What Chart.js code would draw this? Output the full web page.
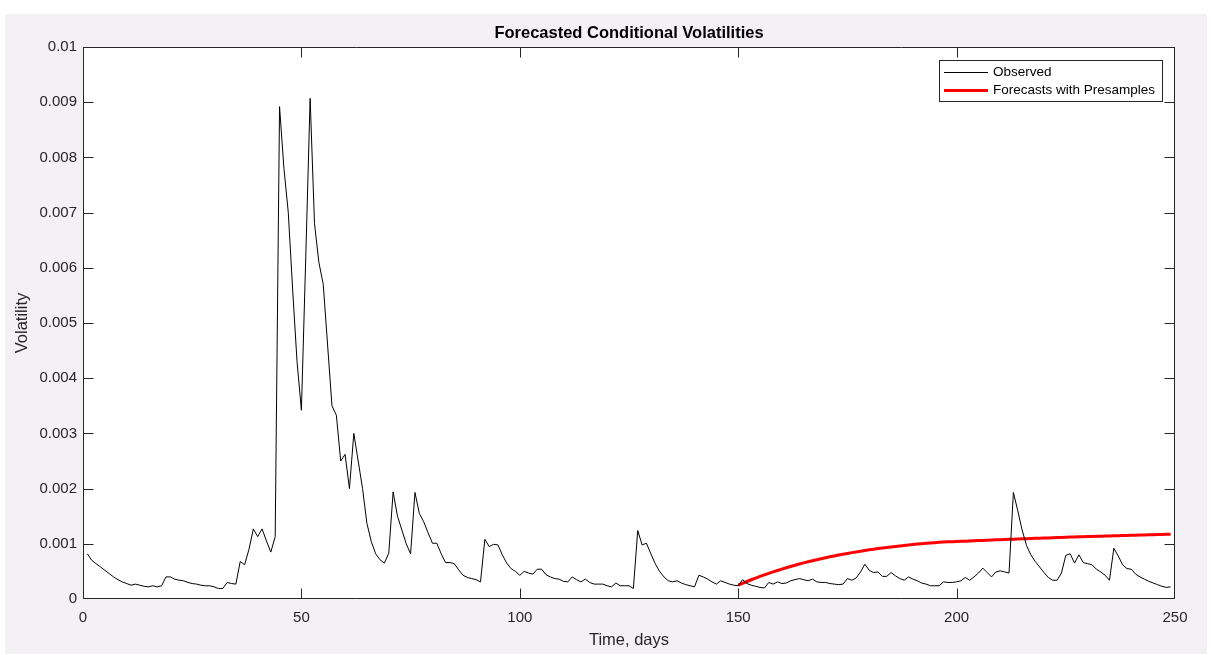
<!DOCTYPE html>
<html>
<head>
<meta charset="utf-8">
<style>
  html, body { margin: 0; padding: 0; background: #ffffff; }
  #wrap { width: 1211px; height: 655px; position: relative; }
</style>
<script src="https://cdn.jsdelivr.net/npm/chart.js@4.4.1/dist/chart.umd.min.js"></script>
</head>
<body>
<div id="wrap"><canvas id="c" width="1211" height="655"></canvas></div>
<script>
// ---------------- data ----------------
const chartTitle = 'Forecasted Conditional Volatilities';
const xAxisTitle = 'Time, days';
const yAxisTitle = 'Volatility';
const seriesNames = ['Observed', 'Forecasts with Presamples'];

const observedStartDay = 1;
const observedValues = [
  0.00082, 0.00070, 0.00064, 0.00058, 0.00052, 0.00046, 0.00040, 0.00035, 0.00031, 0.00028,
  0.00025, 0.00027, 0.00025, 0.00023, 0.00022, 0.00024, 0.00022, 0.00024, 0.00040, 0.00040,
  0.00036, 0.00034, 0.00033, 0.00030, 0.00028, 0.00027, 0.00025, 0.00024, 0.00024, 0.00022,
  0.00019, 0.00019, 0.00030, 0.00028, 0.00027, 0.00068, 0.00062, 0.00090, 0.00127, 0.00113,
  0.00127, 0.00105, 0.00085, 0.00113, 0.00892, 0.00780, 0.00700, 0.00560, 0.00430, 0.00342,
  0.00620, 0.00907, 0.00680, 0.00610, 0.00570, 0.00460, 0.00350, 0.00333, 0.00250, 0.00262,
  0.00200, 0.00300, 0.00250, 0.00200, 0.00137, 0.00104, 0.00082, 0.00071, 0.00065, 0.00083,
  0.00194, 0.00150, 0.00125, 0.00100, 0.00082, 0.00193, 0.00155, 0.00140, 0.00120, 0.00101,
  0.00101, 0.00082, 0.00066, 0.00066, 0.00064, 0.00053, 0.00043, 0.00039, 0.00037, 0.00035,
  0.00031, 0.00108, 0.00095, 0.00099, 0.00098, 0.00080, 0.00065, 0.00055, 0.00050, 0.00043,
  0.00050, 0.00047, 0.00045, 0.00054, 0.00054, 0.00044, 0.00040, 0.00037, 0.00036, 0.00032,
  0.00031, 0.00040, 0.00035, 0.00031, 0.00036, 0.00030, 0.00027, 0.00027, 0.00027, 0.00024,
  0.00022, 0.00029, 0.00024, 0.00024, 0.00024, 0.00019, 0.00124, 0.00098, 0.00101, 0.00082,
  0.00064, 0.00050, 0.00040, 0.00033, 0.00031, 0.00033, 0.00029, 0.00026, 0.00024, 0.00022,
  0.00043, 0.00040, 0.00036, 0.00031, 0.00027, 0.00033, 0.00030, 0.00027, 0.00025, 0.00024,
  0.00035, 0.00028, 0.00025, 0.00023, 0.00021, 0.00020, 0.00030, 0.00027, 0.00031, 0.00028,
  0.00029, 0.00033, 0.00035, 0.00037, 0.00035, 0.00033, 0.00036, 0.00031, 0.00030, 0.00030,
  0.00028, 0.00027, 0.00026, 0.00027, 0.00037, 0.00034, 0.00038, 0.00049, 0.00063, 0.00052,
  0.00048, 0.00049, 0.00041, 0.00041, 0.00048, 0.00042, 0.00037, 0.00034, 0.00040, 0.00036,
  0.00033, 0.00029, 0.00027, 0.00024, 0.00024, 0.00024, 0.00031, 0.00030, 0.00030, 0.00031,
  0.00033, 0.00039, 0.00034, 0.00040, 0.00047, 0.00056, 0.00048, 0.00040, 0.00049, 0.00051,
  0.00049, 0.00047, 0.00193, 0.00160, 0.00125, 0.00097, 0.00080, 0.00068, 0.00058, 0.00048,
  0.00039, 0.00034, 0.00034, 0.00047, 0.00079, 0.00082, 0.00065, 0.00080, 0.00066, 0.00064,
  0.00062, 0.00054, 0.00049, 0.00043, 0.00034, 0.00092, 0.00078, 0.00062, 0.00055, 0.00054,
  0.00045, 0.00040, 0.00036, 0.00032, 0.00029, 0.00026, 0.00023, 0.00021, 0.00022
];

const forecastStartDay = 150;
const forecastValues = [
  0.000250, 0.000284, 0.000317, 0.000349, 0.000379, 0.000409, 0.000438, 0.000465, 0.000492, 0.000517,
  0.000542, 0.000566, 0.000589, 0.000612, 0.000633, 0.000654, 0.000674, 0.000693, 0.000712, 0.000730,
  0.000747, 0.000764, 0.000780, 0.000796, 0.000811, 0.000826, 0.000840, 0.000853, 0.000866, 0.000879,
  0.000891, 0.000903, 0.000914, 0.000924, 0.000934, 0.000944, 0.000953, 0.000962, 0.000971, 0.000979,
  0.000987, 0.000995, 0.001002, 0.001009, 0.001015, 0.001021, 0.001026, 0.001031, 0.001035, 0.001038,
  0.001041, 0.001044, 0.001048, 0.001051, 0.001055, 0.001058, 0.001062, 0.001065, 0.001068, 0.001072,
  0.001075, 0.001078, 0.001081, 0.001084, 0.001087, 0.001090, 0.001093, 0.001096, 0.001099, 0.001102,
  0.001105, 0.001107, 0.001110, 0.001113, 0.001116, 0.001118, 0.001121, 0.001123, 0.001126, 0.001128,
  0.001131, 0.001133, 0.001136, 0.001138, 0.001140, 0.001143, 0.001145, 0.001147, 0.001150, 0.001152,
  0.001154, 0.001157, 0.001159, 0.001161, 0.001164, 0.001166, 0.001168, 0.001170, 0.001173, 0.001175
];

const xTickLabels = ['0', '50', '100', '150', '200', '250'];
const yTickLabels = ['0', '0.001', '0.002', '0.003', '0.004', '0.005', '0.006', '0.007', '0.008', '0.009', '0.01'];

// ---------------- styling ----------------
const AXIS_COLOR = '#262626';
const FIG_BG = '#f4f1f4';
const FONT = '"Liberation Sans", Arial, Helvetica, sans-serif';

const observedPoints = observedValues.map((v, i) => ({ x: observedStartDay + i, y: v }));
const forecastPoints = forecastValues.map((v, i) => ({ x: forecastStartDay + i, y: v }));

const matlabPlugin = {
  id: 'matlabFrame',
  beforeDraw(chart) {
    const ctx = chart.ctx;
    const a = chart.chartArea;
    ctx.save();
    ctx.fillStyle = '#ffffff';
    ctx.fillRect(0, 0, chart.width, chart.height);
    ctx.fillStyle = FIG_BG;
    ctx.fillRect(5, 14, 1202, 640);
    ctx.fillStyle = '#ffffff';
    ctx.fillRect(a.left, a.top, a.right - a.left, a.bottom - a.top);
    ctx.restore();
  },
  afterDatasetsDraw(chart) {
    const ctx = chart.ctx;
    const a = chart.chartArea;
    const xs = chart.scales.x, ys = chart.scales.y;
    const L = Math.round(a.left) + 0.5, R = Math.round(a.right) - 0.5;
    const T = Math.round(a.top) + 0.5, B = Math.round(a.bottom) - 0.5;
    const clamp = (v, lo, hi) => Math.min(hi, Math.max(lo, v));
    ctx.save();
    ctx.strokeStyle = AXIS_COLOR;
    ctx.lineWidth = 1;
    ctx.beginPath();
    ctx.rect(L, T, R - L, B - T);
    ctx.stroke();
    const tl = 10;
    ctx.beginPath();
    xs.ticks.forEach(t => {
      const px = clamp(Math.round(xs.getPixelForValue(t.value)) + 0.5, L, R);
      ctx.moveTo(px, B); ctx.lineTo(px, B - tl);
      ctx.moveTo(px, T); ctx.lineTo(px, T + tl);
    });
    ys.ticks.forEach(t => {
      const py = clamp(Math.round(ys.getPixelForValue(t.value)) + 0.5, T, B);
      ctx.moveTo(L, py); ctx.lineTo(L + tl, py);
      ctx.moveTo(R, py); ctx.lineTo(R - tl, py);
    });
    ctx.stroke();
    ctx.restore();
  },
  afterDraw(chart) {
    const ctx = chart.ctx;
    const a = chart.chartArea;
    const cx = (a.left + a.right) / 2;
    ctx.save();
    // title
    ctx.fillStyle = '#000000';
    ctx.font = 'bold 16.5px ' + FONT;
    ctx.textAlign = 'center';
    ctx.textBaseline = 'middle';
    ctx.fillText(chartTitle, cx, 33.5);
    // axis titles
    ctx.fillStyle = AXIS_COLOR;
    ctx.font = '16.5px ' + FONT;
    ctx.fillText(xAxisTitle, cx, 640.5);
    ctx.save();
    ctx.translate(22, (a.top + a.bottom) / 2);
    ctx.rotate(-Math.PI / 2);
    ctx.fillText(yAxisTitle, 0, 0);
    ctx.restore();
    // legend
    const lx = 939.5, ly = 60.5, lw = 223, lh = 41;
    ctx.fillStyle = '#ffffff';
    ctx.fillRect(lx, ly, lw, lh);
    ctx.strokeStyle = AXIS_COLOR;
    ctx.lineWidth = 1;
    ctx.strokeRect(lx, ly, lw, lh);
    const rows = [72.5, 90.5];
    chart.data.datasets.forEach((ds, i) => {
      ctx.strokeStyle = ds.borderColor;
      ctx.lineWidth = ds.borderWidth;
      ctx.beginPath();
      ctx.moveTo(944, rows[i]);
      ctx.lineTo(988, rows[i]);
      ctx.stroke();
      ctx.fillStyle = '#000000';
      ctx.font = '13.5px ' + FONT;
      ctx.textAlign = 'left';
      ctx.textBaseline = 'middle';
      ctx.fillText(ds.label, 993, rows[i]);
    });
    ctx.restore();
  }
};

new Chart(document.getElementById('c'), {
  type: 'line',
  data: {
    datasets: [
      { label: seriesNames[0], data: observedPoints, borderColor: '#000000', borderWidth: 1,
        pointRadius: 0, tension: 0, fill: false },
      { label: seriesNames[1], data: forecastPoints, borderColor: '#ff0000', borderWidth: 3,
        pointRadius: 0, tension: 0, fill: false }
    ]
  },
  options: {
    responsive: false,
    animation: false,
    devicePixelRatio: 1,
    layout: { padding: { left: 0, right: 36, top: 47, bottom: 0 } },
    plugins: { legend: { display: false }, title: { display: false }, tooltip: { enabled: false } },
    scales: {
      x: {
        type: 'linear', min: 0, max: 250,
        afterFit(s) { s.height = 56; },
        grid: { display: false, drawTicks: false },
        border: { display: false },
        ticks: {
          stepSize: 50, padding: 10, color: AXIS_COLOR, maxRotation: 0,
          font: { family: FONT, size: 15 },
          callback: (v, i) => xTickLabels[i]
        }
      },
      y: {
        type: 'linear', min: 0, max: 0.01,
        afterFit(s) { s.width = 83; },
        grid: { display: false, drawTicks: false },
        border: { display: false },
        ticks: {
          stepSize: 0.001, padding: 6, color: AXIS_COLOR,
          font: { family: FONT, size: 15 },
          callback: (v, i) => yTickLabels[i]
        }
      }
    }
  },
  plugins: [matlabPlugin]
});
</script>
</body>
</html>
